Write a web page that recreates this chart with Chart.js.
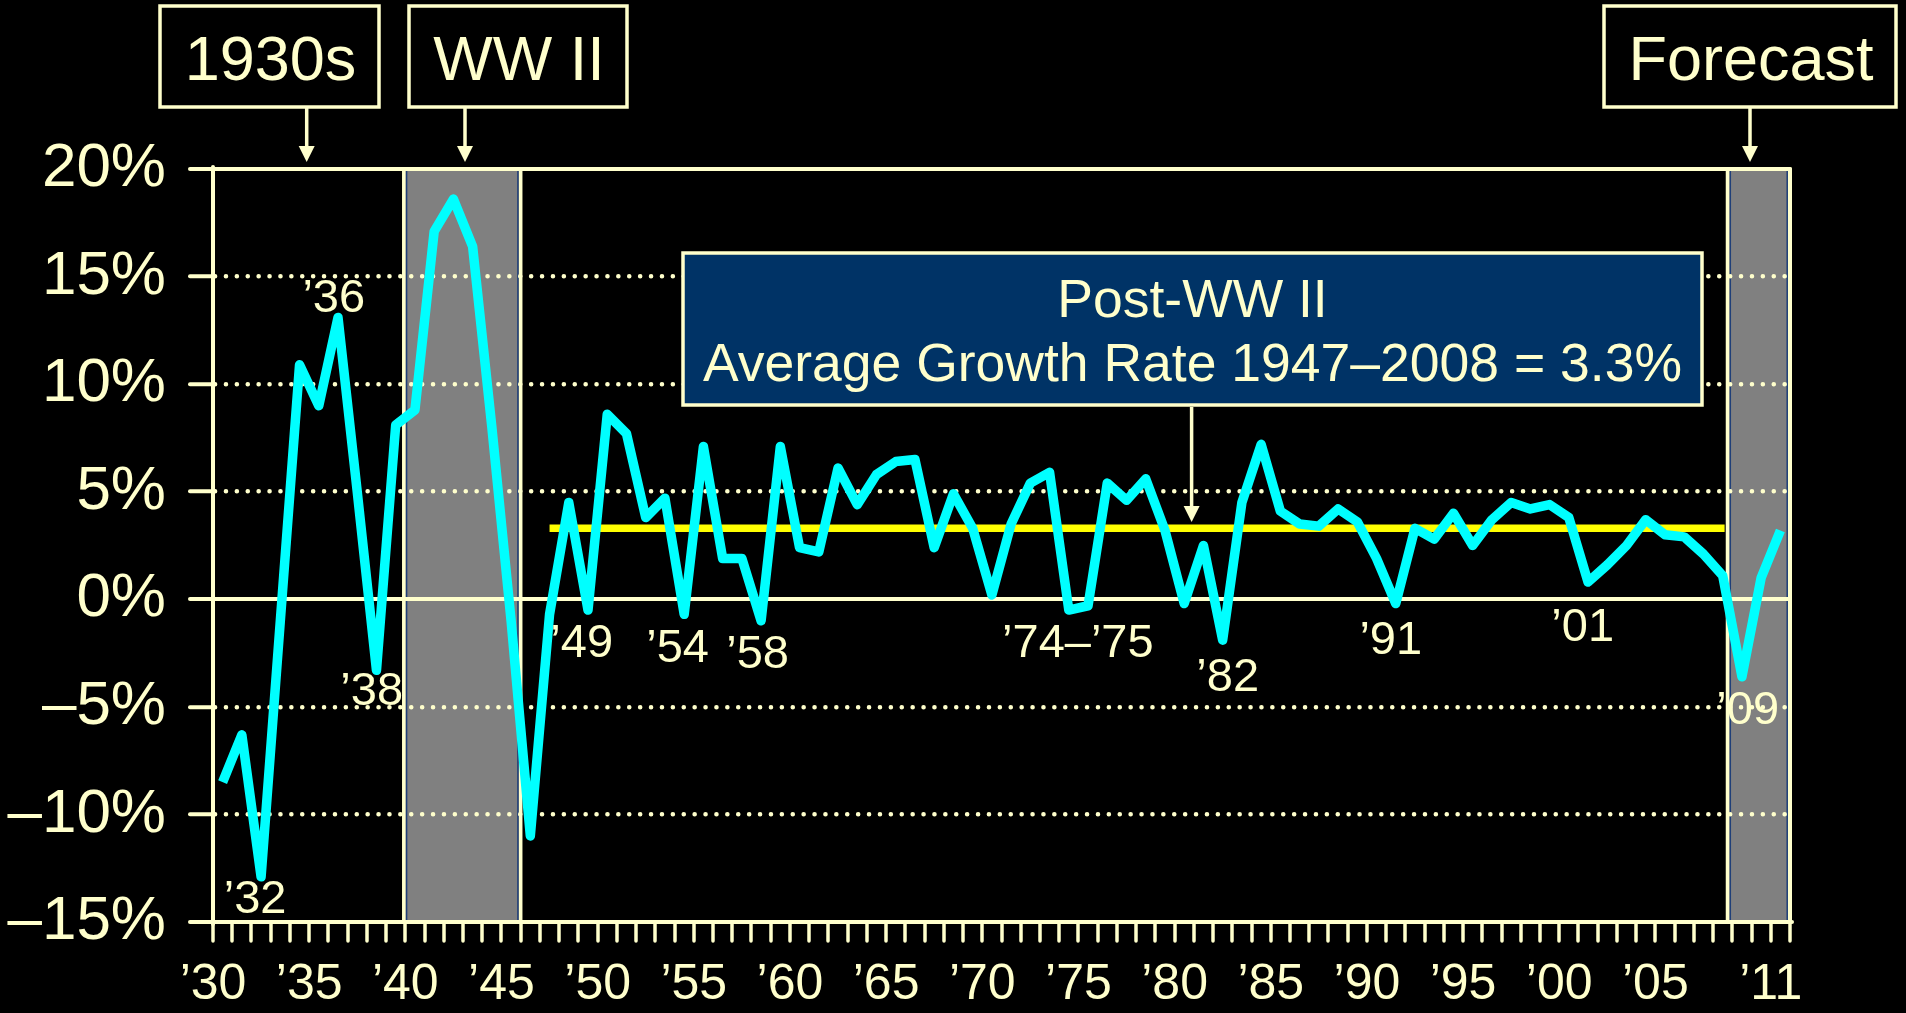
<!DOCTYPE html>
<html><head><meta charset="utf-8">
<script src="https://cdn.jsdelivr.net/npm/chart.js@4/dist/chart.umd.min.js"></script>
<style>html,body{margin:0;padding:0;background:#000;overflow:hidden}#wrap{width:1906px;height:1013px;position:relative}canvas{display:block}</style>
</head><body><div id="wrap"><canvas id="c" width="1906" height="1013"></canvas></div>
<script>
// ---- data ----
const years = Array.from({length: 82}, (_, i) => 1930 + i); // 1930..2011
const gdpGrowth = [
  -8.5, -6.3, -12.9, -1.0, 10.9, 9.0, 13.1, 5.0, -3.3, 8.1,   // 1930s
  8.8, 17.1, 18.6, 16.4, 8.0, -1.0, -11.0, -0.7, 4.5, -0.5,   // 1940s
  8.6, 7.7, 3.8, 4.7, -0.7, 7.1, 1.9, 1.9, -1.0, 7.1,         // 1950s
  2.4, 2.2, 6.1, 4.4, 5.8, 6.4, 6.5, 2.4, 4.9, 3.3,           // 1960s
  0.2, 3.5, 5.4, 5.9, -0.5, -0.3, 5.4, 4.6, 5.6, 3.2,         // 1970s
  -0.2, 2.5, -1.9, 4.5, 7.2, 4.1, 3.5, 3.4, 4.2, 3.6,         // 1980s
  1.9, -0.2, 3.3, 2.8, 4.0, 2.5, 3.7, 4.5, 4.2, 4.4,          // 1990s
  3.8, 0.8, 1.6, 2.5, 3.7, 3.0, 2.9, 2.1, 1.1, -3.6,          // 2000s
  1.0, 3.2                                                    // 2010-11
];
const averageRate = 3.3;
const averageSpan = [1947.5, 2008.6];
const xTickLabels = {1930:'’30',1935:'’35',1940:'’40',1945:'’45',1950:'’50',1955:'’55',1960:'’60',1965:'’65',1970:'’70',1975:'’75',1980:'’80',1985:'’85',1990:'’90',1995:'’95',2000:'’00',2005:'’05',2011:'’11'};
const yMin = -15, yMax = 20, yStep = 5;
const solidGridValues = [20, 0, -15];
const shadedPeriods = [[1939.92, 1946.0], [2008.75, 2012]];
const pointLabels = [
  {text:'’32', year:1932.19, value:-13.98},
  {text:'’36', year:1936.28, value:13.94},
  {text:'’38', year:1938.25, value:-4.31},
  {text:'’49', year:1949.17, value:-2.08},
  {text:'’54', year:1954.16, value:-2.31},
  {text:'’58', year:1958.32, value:-2.61},
  {text:'’74–’75', year:1974.97, value:-2.08},
  {text:'’82', year:1982.76, value:-3.66},
  {text:'’91', year:1991.24, value:-1.92},
  {text:'’01', year:2001.22, value:-1.33},
  {text:'’09', year:2009.80, value:-5.19}
];
const periodBoxes = ['1930s', 'WW II', 'Forecast'];
const noteLines = ['Post-WW II', 'Average Growth Rate 1947–2008 = 3.3%'];

// ---- styles ----
const CREAM = '#FFFFCC';
const FONT = '"Liberation Sans", Arial, Helvetica, sans-serif';

const gdpPoints = years.map((yr, i) => ({x: yr + 0.5, y: gdpGrowth[i]}));
const avgPoints = averageSpan.map(v => ({x: v, y: averageRate}));

function drawBox(ctx, x1, y1, x2, y2, fill) {
  ctx.fillStyle = fill;
  ctx.fillRect(x1, y1, x2 - x1, y2 - y1);
  ctx.strokeStyle = CREAM; ctx.lineWidth = 3.5;
  ctx.strokeRect(x1, y1, x2 - x1, y2 - y1);
}
function drawArrow(ctx, x, y1, y2) {
  ctx.strokeStyle = CREAM; ctx.fillStyle = CREAM; ctx.lineWidth = 3.5;
  ctx.beginPath(); ctx.moveTo(x, y1); ctx.lineTo(x, y2 - 12); ctx.stroke();
  ctx.beginPath(); ctx.moveTo(x - 8, y2 - 16); ctx.lineTo(x + 8, y2 - 16); ctx.lineTo(x, y2); ctx.closePath(); ctx.fill();
}

const deco = {
  id: 'deco',
  beforeDraw(chart) {
    const {ctx, chartArea: a, scales: {x}} = chart;
    ctx.save();
    for (const [s, e] of shadedPeriods) {
      const x1 = x.getPixelForValue(s), x2 = x.getPixelForValue(e);
      ctx.fillStyle = '#808080';
      ctx.fillRect(x1, a.top, x2 - x1, a.bottom - a.top);
      ctx.strokeStyle = '#1F3F78'; ctx.lineWidth = 1.5;
      ctx.beginPath();
      ctx.moveTo(x1 + 2.8, a.top); ctx.lineTo(x1 + 2.8, a.bottom);
      ctx.moveTo(x2 - 2.8, a.top); ctx.lineTo(x2 - 2.8, a.bottom);
      ctx.stroke();
      ctx.strokeStyle = CREAM; ctx.lineWidth = 3.5;
      ctx.beginPath();
      ctx.moveTo(x1, a.top); ctx.lineTo(x1, a.bottom);
      ctx.moveTo(x2, a.top); ctx.lineTo(x2, a.bottom);
      ctx.stroke();
    }
    ctx.restore();
    ctx.lineCap = 'round';
  },
  beforeDatasetsDraw(chart) { chart.ctx.lineCap = 'butt'; },
  afterDraw(chart) {
    const {ctx, scales: {x, y}} = chart;
    ctx.save();
    // point labels
    ctx.fillStyle = CREAM;
    ctx.font = '47px ' + FONT;
    ctx.textAlign = 'center'; ctx.textBaseline = 'middle';
    for (const l of pointLabels) {
      ctx.fillText(l.text, x.getPixelForValue(l.year), y.getPixelForValue(l.value));
    }
    // period boxes
    const boxes = [[160, 6, 379, 107, 306.7], [409, 6, 627, 107, 465], [1604, 6, 1896, 107, 1750]];
    ctx.font = '63px ' + FONT;
    ctx.textBaseline = 'alphabetic';
    boxes.forEach((b, i) => {
      drawBox(ctx, b[0], b[1], b[2], b[3], '#000000');
      ctx.fillStyle = CREAM;
      ctx.fillText(periodBoxes[i], (b[0] + b[2]) / 2 + 1, 80);
      drawArrow(ctx, b[4], b[3] + 1, 162);
    });
    // post-war note
    drawBox(ctx, 683, 253, 1702, 405, '#003366');
    ctx.fillStyle = CREAM;
    ctx.font = '53.5px ' + FONT;
    ctx.fillText(noteLines[0], 1192.5, 317);
    ctx.fillText(noteLines[1], 1192.5, 381);
    drawArrow(ctx, 1191.6, 407, 522);
    ctx.restore();
  }
};

new Chart(document.getElementById('c'), {
  type: 'line',
  data: {
    datasets: [
      {label: 'GDP growth', data: gdpPoints, borderColor: '#00FFFF', borderWidth: 9.5, pointRadius: 0, tension: 0, borderJoinStyle: 'round', order: 1},
      {label: 'Average', data: avgPoints, borderColor: '#FFFF00', borderWidth: 7.5, pointRadius: 0, tension: 0, order: 2}
    ]
  },
  options: {
    responsive: false, animation: false, devicePixelRatio: 1,
    layout: {padding: {top: 169, right: 116, left: 0, bottom: 0}},
    plugins: {legend: {display: false}, tooltip: {enabled: false}},
    scales: {
      x: {
        type: 'linear', min: 1930, max: 2012,
        afterFit(s) { s.height = 91; },
        ticks: {stepSize: 1, autoSkip: false, maxRotation: 0, minRotation: 0, maxTicksLimit: 200, color: CREAM,
                font: {family: FONT, size: 50}, padding: 14,
                callback: v => xTickLabels[v] ?? ''},
        grid: {drawOnChartArea: true, color: c => (c.tick && c.tick.value === 2012) ? CREAM : 'rgba(0,0,0,0)',
               lineWidth: 4, tickLength: 19, tickColor: CREAM, tickWidth: 3.5},
        border: {display: true, color: CREAM, width: 4}
      },
      y: {
        min: yMin, max: yMax,
        afterFit(s) { s.width = 213; },
        ticks: {stepSize: yStep, color: CREAM, font: {family: FONT, size: 62}, padding: 24,
                callback: v => (v < 0 ? '\u2013' : '') + Math.abs(v) + '%'},
        grid: {color: CREAM, lineWidth: c => (c.tick && solidGridValues.includes(c.tick.value)) ? 4 : 4.5,
               tickLength: 23, tickColor: CREAM, tickWidth: 4},
        border: {display: true, color: CREAM, width: 4,
                 dash: c => (c.tick && !solidGridValues.includes(c.tick.value)) ? [0.1, 10.8] : []}
      }
    }
  },
  plugins: [deco]
});
</script></body></html>
